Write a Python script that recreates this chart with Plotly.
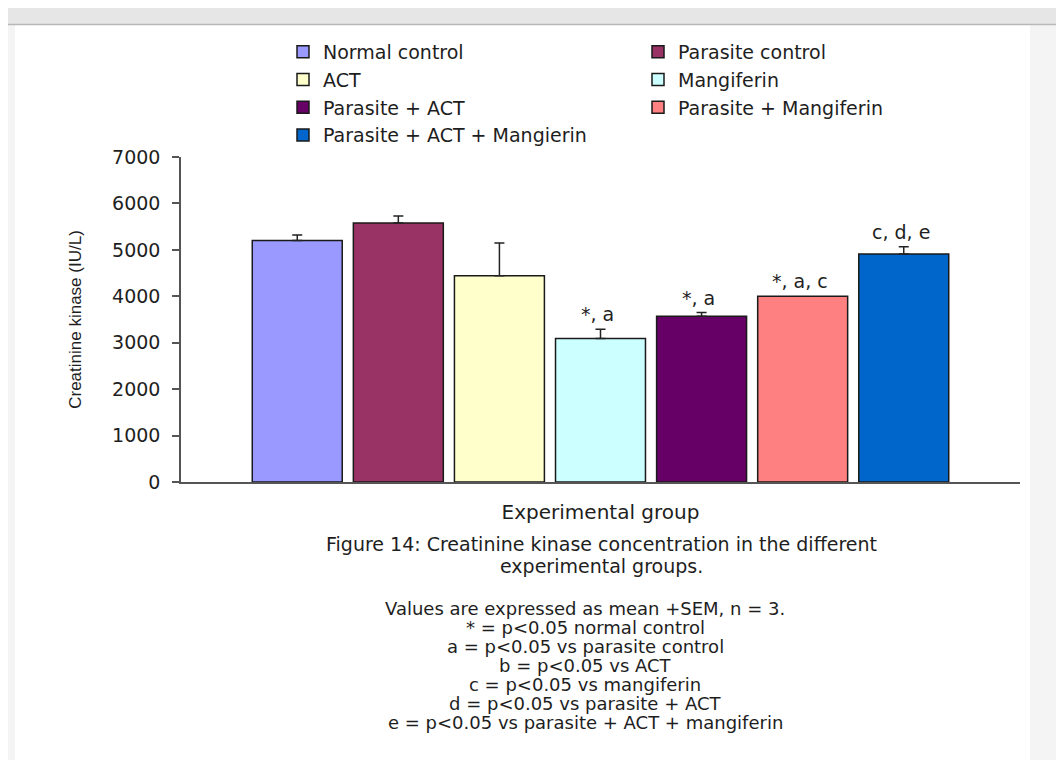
import plotly.graph_objects as go

# ---------------- data ----------------
groups = ["Normal control", "Parasite control", "ACT", "Mangiferin",
          "Parasite + ACT", "Parasite + Mangiferin", "Parasite + ACT + Mangierin"]
ck_mean = [5200, 5580, 4440, 3090, 3570, 4000, 4910]
ck_sem = [120, 150, 710, 200, 80, 0, 155]
sig_labels = ["", "", "", "*, a", "*, a", "*, a, c", "c, d, e"]
bar_colors = ["#9999FF", "#993366", "#FFFFCC", "#CCFFFF", "#660066", "#FF8080", "#0066CC"]
legend_cols = ["legend", "legend2", "legend", "legend2", "legend", "legend2", "legend"]
y_ticks = [0, 1000, 2000, 3000, 4000, 5000, 6000, 7000]
caption_main = ["Figure 14: Creatinine kinase concentration in the different",
                "experimental groups."]
caption_notes = ["Values are expressed as mean +SEM, n = 3.",
                 "* = p<0.05 normal control",
                 "a = p<0.05 vs parasite control",
                 "b = p<0.05 vs ACT",
                 "c = p<0.05 vs mangiferin",
                 "d = p<0.05 vs parasite + ACT",
                 "e = p<0.05 vs parasite + ACT + mangiferin"]

# ---------------- layout geometry (pixels) ----------------
OFF = 8  # page body margin of the html page
W, H = 1064, 760
ML, MT = 181 - OFF, 157 - OFF
MR = W - (1020 - OFF)
MB = H - (482 - OFF)
PW = W - ML - MR
PH = H - MT - MB


def px(x):
    """window pixel x -> paper coordinate"""
    return (x - OFF - ML) / PW


def py(y):
    """window pixel y -> paper coordinate"""
    return (H - MB - (y - OFF)) / PH


FONT = "DejaVu Sans"
TXT = "#1e1e1e"

fig = go.Figure()
for i, g in enumerate(groups):
    err = ck_sem[i]
    fig.add_trace(go.Bar(
        x=[i], y=[ck_mean[i]], name=g, width=0.89,
        marker=dict(color=bar_colors[i], line=dict(color="#1a1a1a", width=1.5)),
        error_y=dict(type="data", array=[err], arrayminus=[0], symmetric=False,
                     visible=err > 0, color="#222222", thickness=1.5, width=5),
        legend=legend_cols[i],
    ))
    if sig_labels[i]:
        fig.add_annotation(x=i, y=ck_mean[i] + err, text=sig_labels[i],
                           showarrow=False, xanchor="center", yanchor="bottom",
                           xshift=-3, yshift=2,
                           font=dict(family=FONT, size=19, color=TXT))

# background page decoration
shapes = [
    dict(type="rect", xref="paper", yref="paper", x0=px(15), x1=px(1030), y0=py(780), y1=py(25),
         fillcolor="white", line=dict(width=0), layer="below"),
    dict(type="rect", xref="paper", yref="paper", x0=px(0), x1=px(1072), y0=py(24), y1=py(0),
         fillcolor="#e6e6e6", line=dict(width=0), layer="below"),
    dict(type="line", xref="paper", yref="paper", x0=px(0), x1=px(1072), y0=py(24.5), y1=py(24.5),
         line=dict(color="#b8b8b8", width=1.5), layer="below"),
]

# caption
for j, line in enumerate(caption_main):
    fig.add_annotation(x=px(601), y=py(544 + 22 * j), xref="paper", yref="paper",
                       text=line, showarrow=False, xanchor="center", yanchor="middle",
                       font=dict(family=FONT, size=19, color=TXT))
for j, line in enumerate(caption_notes):
    fig.add_annotation(x=px(585), y=py(608 + 19 * j), xref="paper", yref="paper",
                       text=line, showarrow=False, xanchor="center", yanchor="middle",
                       font=dict(family=FONT, size=18, color=TXT))

legend_style = dict(orientation="v", xanchor="left", yanchor="top",
                    bgcolor="rgba(0,0,0,0)", borderwidth=0, traceorder="normal",
                    font=dict(family=FONT, size=19, color=TXT), itemwidth=30)

fig.update_layout(
    width=W, height=H,
    margin=dict(l=ML, r=MR, t=MT, b=MB, pad=0),
    paper_bgcolor="#f4f4f4", plot_bgcolor="white",
    template="none",
    barmode="overlay",
    showlegend=True,
    legend=dict(x=px(283), y=py(33), **legend_style),
    legend2=dict(x=px(638), y=py(33), **legend_style),
    shapes=shapes,
    font=dict(family=FONT, color=TXT),
    xaxis=dict(range=[-1.15, 7.15], showticklabels=False, ticks="", showgrid=False,
               zeroline=False, showline=True, linecolor="#555555", linewidth=1.5,
               title=dict(text="Experimental group", standoff=22,
                          font=dict(family=FONT, size=20, color=TXT)),
               automargin=False),
    yaxis=dict(range=[0, 7000], tickvals=y_ticks, ticks="outside", ticklen=7,
               tickcolor="#555555", tickwidth=1.5, showgrid=False, zeroline=False,
               showline=True, linecolor="#555555", linewidth=1.5,
               ticklabelstandoff=8,
               tickfont=dict(family=FONT, size=19, color=TXT),
               title=dict(text="Creatinine kinase (IU/L)", standoff=26,
                          font=dict(family="Liberation Sans", size=17, color=TXT)),
               automargin=False),
)

fig.write_html("out.html")
